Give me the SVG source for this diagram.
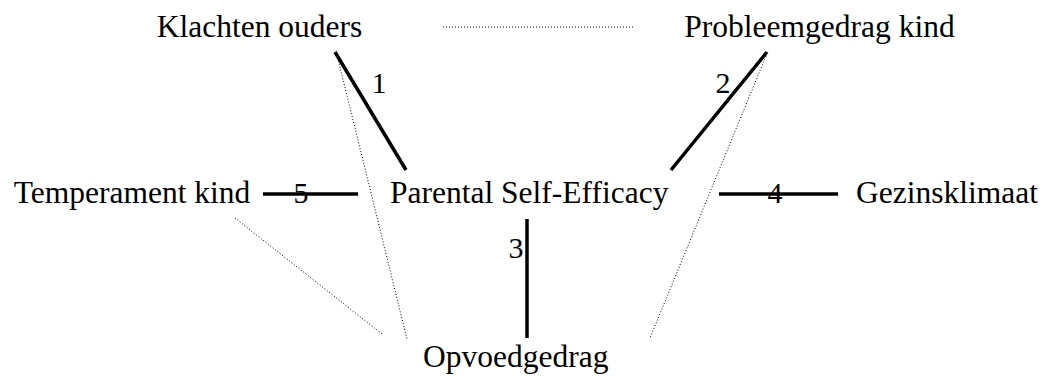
<svg xmlns="http://www.w3.org/2000/svg" width="1051" height="376" viewBox="0 0 1051 376">
<style>
.t{font-family:"Liberation Serif","Times New Roman",serif;font-size:31.5px;fill:#000}
.n{font-family:"Liberation Serif","Times New Roman",serif;font-size:30px;fill:#000}
.s{stroke:#000;stroke-width:3.5;fill:none}
.d{stroke:#000;stroke-width:1;stroke-dasharray:1 2;fill:none}
</style>
<rect width="1051" height="376" fill="#fff"/>
<g id="connectors">
<line class="d" x1="443" y1="27" x2="633" y2="27"/>
<line class="d" x1="337" y1="55" x2="407" y2="339"/>
<line class="d" x1="766" y1="56" x2="650" y2="338"/>
<line class="d" x1="235" y1="218" x2="382" y2="334"/>
<line class="s" x1="335" y1="52" x2="406" y2="170"/>
<line class="s" x1="767" y1="52" x2="671" y2="170"/>
<line class="s" x1="263" y1="194" x2="358" y2="194"/>
<line class="s" x1="719" y1="194" x2="838" y2="194"/>
<line class="s" x1="527" y1="219" x2="527" y2="338"/>
<text class="n" x="379" y="93" text-anchor="middle">1</text>
<text class="n" x="723" y="93" text-anchor="middle">2</text>
<text class="n" x="516" y="258" text-anchor="middle">3</text>
<text class="n" x="775" y="203" text-anchor="middle">4</text>
<text class="n" x="301" y="203" text-anchor="middle">5</text>
</g>
<g id="klachten"><text class="t" x="259.5" y="37" text-anchor="middle">Klachten ouders</text></g>
<g id="probleemgedrag"><text class="t" x="819.5" y="37" text-anchor="middle">Probleemgedrag kind</text></g>
<g id="temperament"><text class="t" x="132" y="203" text-anchor="middle">Temperament kind</text></g>
<g id="pse"><text class="t" x="390" y="203">Parental Self-Efficacy</text></g>
<g id="gezinsklimaat"><text class="t" x="856" y="203">Gezinsklimaat</text></g>
<g id="opvoedgedrag"><text class="t" x="423" y="367">Opvoedgedrag</text></g>
</svg>
